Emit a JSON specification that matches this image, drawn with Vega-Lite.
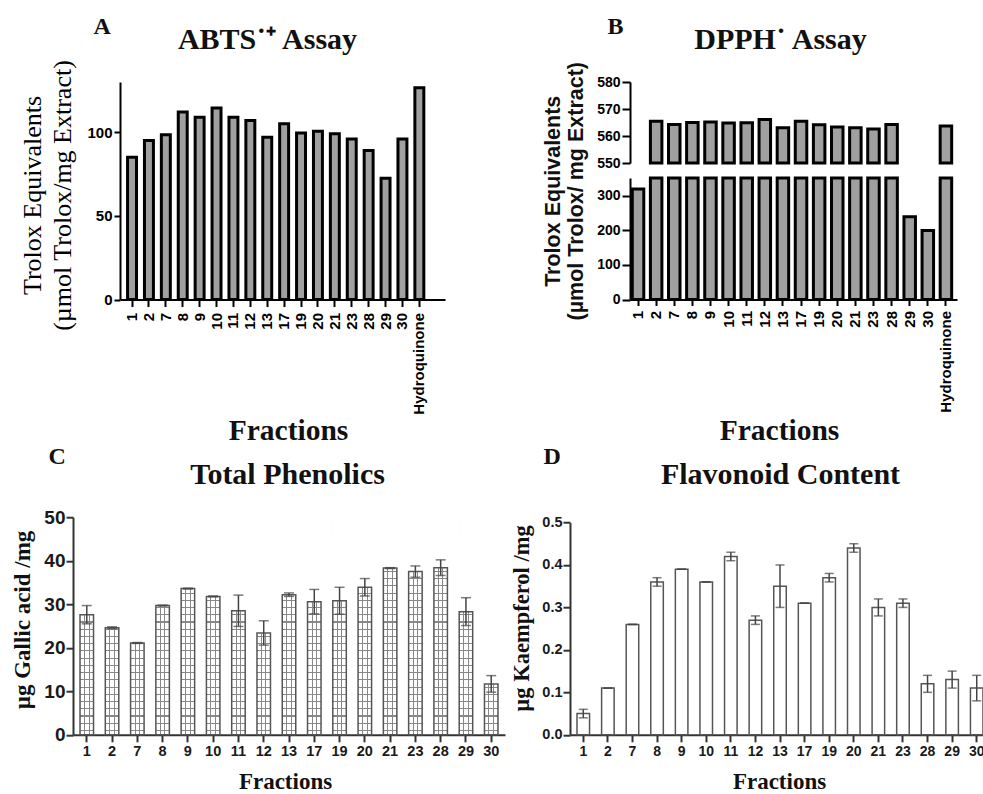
{
  "$schema": "https://vega.github.io/schema/vega-lite/v6.json",
  "autosize": {"type": "none"},
  "padding": {"left": 73, "top": 82, "right": 910, "bottom": 712},
  "background": "white",
  "columns": 2,
  "bounds": "flush",
  "spacing": {"row": 217.2, "column": 65},
  "config": {
    "view": {"stroke": null},
    "font": "Liberation Sans",
    "axis": {
      "grid": false,
      "labelFont": "Liberation Sans", "labelFontWeight": "bold", "labelColor": "#000",
      "tickColor": "#000", "tickWidth": 2, "domainColor": "#000", "domainWidth": 2,
      "titleFont": "Liberation Serif", "titleFontWeight": "bold", "titleColor": "#111",
      "labelOverlap": false
    }
  },
  "datasets": {
    "abts": [
      {"fraction": "1", "value": 85}, {"fraction": "2", "value": 95}, {"fraction": "7", "value": 98.5},
      {"fraction": "8", "value": 112}, {"fraction": "9", "value": 109}, {"fraction": "10", "value": 114.5},
      {"fraction": "11", "value": 109}, {"fraction": "12", "value": 107}, {"fraction": "13", "value": 97},
      {"fraction": "17", "value": 105}, {"fraction": "19", "value": 99.5}, {"fraction": "20", "value": 100.5},
      {"fraction": "21", "value": 99}, {"fraction": "23", "value": 96}, {"fraction": "28", "value": 89},
      {"fraction": "29", "value": 72.5}, {"fraction": "30", "value": 96}, {"fraction": "Hydroquinone", "value": 126.5}
    ],
    "dpph": [
      {"fraction": "1", "value": 320}, {"fraction": "2", "value": 565.5}, {"fraction": "7", "value": 564.3},
      {"fraction": "8", "value": 565}, {"fraction": "9", "value": 565.2}, {"fraction": "10", "value": 564.8},
      {"fraction": "11", "value": 564.9}, {"fraction": "12", "value": 566.1}, {"fraction": "13", "value": 563.1},
      {"fraction": "17", "value": 565.5}, {"fraction": "19", "value": 564.2}, {"fraction": "20", "value": 563.3},
      {"fraction": "21", "value": 563.1}, {"fraction": "23", "value": 562.6}, {"fraction": "28", "value": 564.3},
      {"fraction": "29", "value": 240}, {"fraction": "30", "value": 200}, {"fraction": "Hydroquinone", "value": 563.7}
    ],
    "phen": [
      {"fraction": "1", "value": 27.6, "err": 2.1}, {"fraction": "2", "value": 24.6, "err": 0.2},
      {"fraction": "7", "value": 21.1, "err": 0.1}, {"fraction": "8", "value": 29.7, "err": 0.1},
      {"fraction": "9", "value": 33.6, "err": 0.1}, {"fraction": "10", "value": 31.8, "err": 0.1},
      {"fraction": "11", "value": 28.5, "err": 3.6}, {"fraction": "12", "value": 23.4, "err": 2.8},
      {"fraction": "13", "value": 32.2, "err": 0.4}, {"fraction": "17", "value": 30.6, "err": 2.8},
      {"fraction": "19", "value": 30.8, "err": 3.1}, {"fraction": "20", "value": 33.9, "err": 2.0},
      {"fraction": "21", "value": 38.3, "err": 0.1}, {"fraction": "23", "value": 37.5, "err": 1.3},
      {"fraction": "28", "value": 38.4, "err": 1.8}, {"fraction": "29", "value": 28.3, "err": 3.2},
      {"fraction": "30", "value": 11.7, "err": 1.9}
    ],
    "flav": [
      {"fraction": "1", "value": 0.05, "err": 0.01}, {"fraction": "2", "value": 0.11, "err": 0},
      {"fraction": "7", "value": 0.26, "err": 0}, {"fraction": "8", "value": 0.36, "err": 0.01},
      {"fraction": "9", "value": 0.39, "err": 0}, {"fraction": "10", "value": 0.36, "err": 0},
      {"fraction": "11", "value": 0.42, "err": 0.01}, {"fraction": "12", "value": 0.27, "err": 0.01},
      {"fraction": "13", "value": 0.35, "err": 0.05}, {"fraction": "17", "value": 0.31, "err": 0},
      {"fraction": "19", "value": 0.37, "err": 0.01}, {"fraction": "20", "value": 0.44, "err": 0.01},
      {"fraction": "21", "value": 0.30, "err": 0.02}, {"fraction": "23", "value": 0.31, "err": 0.01},
      {"fraction": "28", "value": 0.12, "err": 0.02}, {"fraction": "29", "value": 0.13, "err": 0.02},
      {"fraction": "30", "value": 0.11, "err": 0.03}
    ]
  },
  "concat": [
    {
      "width": 372, "height": 217.5,
      "data": {"name": "abts"},
      "resolve": {"axis": {"x": "independent"}},
      "layer": [
        {
          "mark": {"type": "bar", "fill": "#a0a0a0", "stroke": "#000", "strokeWidth": 3},
          "encoding": {
            "x": {"field": "fraction", "type": "nominal", "sort": null,
              "scale": {"range": [47, 372], "paddingInner": 0.47, "paddingOuter": 0.85, "align": 0.263},
              "axis": {"orient": "bottom", "labelAngle": -90, "labelFontSize": 15, "labelPadding": 6, "tickSize": 7,
                "title": "Fractions", "titleFontSize": 29.5, "titleX": 215, "titleY": 139.5, "titleAlign": "center", "titleBaseline": "alphabetic", "titleAngle": 0}},
            "y": {"field": "value", "type": "quantitative", "title": ["Trolox Equivalents", "(µmol Trolox/mg Extract)"],
              "scale": {"domain": [0, 130], "nice": false},
              "axis": {"offset": -47, "values": [0, 50, 100], "labelFontSize": 15, "labelPadding": 2, "tickSize": 6,
                "titleFontWeight": "normal", "titleFontSize": 26, "titleColor": "#000",
                "titleLineHeight": 30, "titleX": -80, "titleY": 113, "titleAlign": "center", "titleBaseline": "alphabetic", "titleAngle": 270}}
          }
        },
        {
          "mark": {"type": "bar", "opacity": 0},
          "encoding": {"x": {"field": "fraction", "type": "nominal", "sort": null,
            "axis": {"orient": "top", "labels": false, "ticks": false, "domain": false, "title": "ABTS˙⁺ Assay",
              "titleFontSize": 30, "titleX": 194, "titleY": -34, "titleAlign": "center", "titleBaseline": "alphabetic", "titleAngle": 0}},
            "y": {"field": "value", "type": "quantitative", "title": ["Trolox Equivalents", "(µmol Trolox/mg Extract)"]}}
        },
        {
          "mark": {"type": "bar", "opacity": 0},
          "encoding": {"x": {"field": "fraction", "type": "nominal", "sort": null,
            "axis": {"orient": "top", "labels": false, "ticks": false, "domain": false, "title": "A",
              "titleFontSize": 24, "titleX": 20, "titleY": -49, "titleAlign": "left", "titleBaseline": "alphabetic", "titleAngle": 0}},
            "y": {"field": "value", "type": "quantitative", "title": ["Trolox Equivalents", "(µmol Trolox/mg Extract)"]}}
        }
      ]
    },
    {
      "width": 387, "height": 217.5,
      "data": {"name": "dpph"},
      "resolve": {"scale": {"y": "independent"}, "axis": {"x": "independent", "y": "independent"}},
      "layer": [
        {
          "mark": {"type": "bar", "fill": "#a0a0a0", "stroke": "#000", "strokeWidth": 3},
          "encoding": {
            "x": {"field": "fraction", "type": "nominal", "sort": null,
              "scale": {"domain": ["1","2","7","8","9","10","11","12","13","17","19","20","21","23","28","29","30","Hydroquinone"],
                "range": [60, 387], "paddingInner": 0.365, "paddingOuter": 0.21, "align": 0.3},
              "axis": {"orient": "bottom", "labelAngle": -90, "labelFontSize": 15, "labelPadding": 5, "tickSize": 6,
                "title": "Fractions", "titleFontSize": 29.5, "titleX": 209, "titleY": 139.5, "titleAlign": "center", "titleBaseline": "alphabetic", "titleAngle": 0}},
            "y": {"field": "value", "type": "quantitative",
              "scale": {"domain": [0, 352], "range": [217.5, 96], "clamp": true, "nice": false},
              "axis": {"orient": "left", "offset": -60, "values": [0, 100, 200, 300], "labelFontSize": 14, "labelPadding": 2, "tickSize": 8,
                "title": ["Trolox Equivalents", "(µmol Trolox/ mg Extract)"], "titleFont": "Liberation Sans", "titleFontSize": 21.5, "titleColor": "#111",
                "titleLineHeight": 23.5, "titleX": -71, "titleY": 108.75, "titleAlign": "center", "titleBaseline": "alphabetic", "titleAngle": 270}}
          }
        },
        {
          "transform": [{"filter": "datum.value >= 550"}],
          "mark": {"type": "bar", "fill": "#a0a0a0", "stroke": "#000", "strokeWidth": 3},
          "encoding": {
            "x": {"field": "fraction", "type": "nominal", "sort": null, "axis": null},
            "y": {"field": "value", "type": "quantitative",
              "scale": {"domain": [550, 580], "range": [81, 0], "clamp": true, "nice": false, "zero": false},
              "axis": {"orient": "left", "offset": -60, "values": [550, 560, 570, 580], "labelFontSize": 14, "labelPadding": 2, "tickSize": 8, "title": null}},
            "y2": {"datum": 550}
          }
        },
        {
          "mark": {"type": "bar", "opacity": 0},
          "encoding": {"x": {"field": "fraction", "type": "nominal", "sort": null,
            "axis": {"orient": "top", "labels": false, "ticks": false, "domain": false, "title": "DPPH˙ Assay",
              "titleFontSize": 30, "titleX": 210, "titleY": -34, "titleAlign": "center", "titleBaseline": "alphabetic", "titleAngle": 0}},
            "y": {"field": "value", "type": "quantitative", "axis": null}}
        },
        {
          "mark": {"type": "bar", "opacity": 0},
          "encoding": {"x": {"field": "fraction", "type": "nominal", "sort": null,
            "axis": {"orient": "top", "labels": false, "ticks": false, "domain": false, "title": "B",
              "titleFontSize": 24, "titleX": 37, "titleY": -49, "titleAlign": "left", "titleBaseline": "alphabetic", "titleAngle": 0}},
            "y": {"field": "value", "type": "quantitative", "axis": null}}
        }
      ]
    },
    {
      "width": 432, "height": 217.6,
      "data": {"name": "phen"},
      "resolve": {"axis": {"x": "independent"}},
      "layer": [
        {
          "mark": {"type": "bar", "fill": {"gradient": "linear", "x1": 0, "y1": 0, "x2": 0, "y2": 1, "stops": [
            {"offset": 0, "color": "#fff"},
            {"offset": 0.0138, "color": "#fff"}, {"offset": 0.0138, "color": "#888"}, {"offset": 0.0188, "color": "#888"}, {"offset": 0.0188, "color": "#fff"},
            {"offset": 0.0471, "color": "#fff"}, {"offset": 0.0471, "color": "#888"}, {"offset": 0.0521, "color": "#888"}, {"offset": 0.0521, "color": "#fff"},
            {"offset": 0.0803, "color": "#fff"}, {"offset": 0.0803, "color": "#888"}, {"offset": 0.0853, "color": "#888"}, {"offset": 0.0853, "color": "#fff"},
            {"offset": 0.1135, "color": "#fff"}, {"offset": 0.1135, "color": "#888"}, {"offset": 0.1185, "color": "#888"}, {"offset": 0.1185, "color": "#fff"},
            {"offset": 0.1468, "color": "#fff"}, {"offset": 0.1468, "color": "#888"}, {"offset": 0.1518, "color": "#888"}, {"offset": 0.1518, "color": "#fff"},
            {"offset": 0.1800, "color": "#fff"}, {"offset": 0.1800, "color": "#888"}, {"offset": 0.1850, "color": "#888"}, {"offset": 0.1850, "color": "#fff"},
            {"offset": 0.2132, "color": "#fff"}, {"offset": 0.2132, "color": "#888"}, {"offset": 0.2182, "color": "#888"}, {"offset": 0.2182, "color": "#fff"},
            {"offset": 0.2464, "color": "#fff"}, {"offset": 0.2464, "color": "#888"}, {"offset": 0.2514, "color": "#888"}, {"offset": 0.2514, "color": "#fff"},
            {"offset": 0.2797, "color": "#fff"}, {"offset": 0.2797, "color": "#888"}, {"offset": 0.2847, "color": "#888"}, {"offset": 0.2847, "color": "#fff"},
            {"offset": 0.3129, "color": "#fff"}, {"offset": 0.3129, "color": "#888"}, {"offset": 0.3179, "color": "#888"}, {"offset": 0.3179, "color": "#fff"},
            {"offset": 0.3461, "color": "#fff"}, {"offset": 0.3461, "color": "#888"}, {"offset": 0.3511, "color": "#888"}, {"offset": 0.3511, "color": "#fff"},
            {"offset": 0.3794, "color": "#fff"}, {"offset": 0.3794, "color": "#888"}, {"offset": 0.3844, "color": "#888"}, {"offset": 0.3844, "color": "#fff"},
            {"offset": 0.4126, "color": "#fff"}, {"offset": 0.4126, "color": "#888"}, {"offset": 0.4176, "color": "#888"}, {"offset": 0.4176, "color": "#fff"},
            {"offset": 0.4458, "color": "#fff"}, {"offset": 0.4458, "color": "#888"}, {"offset": 0.4508, "color": "#888"}, {"offset": 0.4508, "color": "#fff"},
            {"offset": 0.4791, "color": "#fff"}, {"offset": 0.4791, "color": "#888"}, {"offset": 0.4841, "color": "#888"}, {"offset": 0.4841, "color": "#fff"},
            {"offset": 0.5123, "color": "#fff"}, {"offset": 0.5123, "color": "#888"}, {"offset": 0.5173, "color": "#888"}, {"offset": 0.5173, "color": "#fff"},
            {"offset": 0.5455, "color": "#fff"}, {"offset": 0.5455, "color": "#888"}, {"offset": 0.5505, "color": "#888"}, {"offset": 0.5505, "color": "#fff"},
            {"offset": 0.5787, "color": "#fff"}, {"offset": 0.5787, "color": "#888"}, {"offset": 0.5837, "color": "#888"}, {"offset": 0.5837, "color": "#fff"},
            {"offset": 0.6120, "color": "#fff"}, {"offset": 0.6120, "color": "#888"}, {"offset": 0.6170, "color": "#888"}, {"offset": 0.6170, "color": "#fff"},
            {"offset": 0.6452, "color": "#fff"}, {"offset": 0.6452, "color": "#888"}, {"offset": 0.6502, "color": "#888"}, {"offset": 0.6502, "color": "#fff"},
            {"offset": 0.6784, "color": "#fff"}, {"offset": 0.6784, "color": "#888"}, {"offset": 0.6834, "color": "#888"}, {"offset": 0.6834, "color": "#fff"},
            {"offset": 0.7117, "color": "#fff"}, {"offset": 0.7117, "color": "#888"}, {"offset": 0.7167, "color": "#888"}, {"offset": 0.7167, "color": "#fff"},
            {"offset": 0.7449, "color": "#fff"}, {"offset": 0.7449, "color": "#888"}, {"offset": 0.7499, "color": "#888"}, {"offset": 0.7499, "color": "#fff"},
            {"offset": 0.7781, "color": "#fff"}, {"offset": 0.7781, "color": "#888"}, {"offset": 0.7831, "color": "#888"}, {"offset": 0.7831, "color": "#fff"},
            {"offset": 0.8114, "color": "#fff"}, {"offset": 0.8114, "color": "#888"}, {"offset": 0.8164, "color": "#888"}, {"offset": 0.8164, "color": "#fff"},
            {"offset": 0.8446, "color": "#fff"}, {"offset": 0.8446, "color": "#888"}, {"offset": 0.8496, "color": "#888"}, {"offset": 0.8496, "color": "#fff"},
            {"offset": 0.8778, "color": "#fff"}, {"offset": 0.8778, "color": "#888"}, {"offset": 0.8828, "color": "#888"}, {"offset": 0.8828, "color": "#fff"},
            {"offset": 0.9110, "color": "#fff"}, {"offset": 0.9110, "color": "#888"}, {"offset": 0.9160, "color": "#888"}, {"offset": 0.9160, "color": "#fff"},
            {"offset": 0.9443, "color": "#fff"}, {"offset": 0.9443, "color": "#888"}, {"offset": 0.9493, "color": "#888"}, {"offset": 0.9493, "color": "#fff"},
            {"offset": 0.9775, "color": "#fff"}, {"offset": 0.9775, "color": "#888"}, {"offset": 0.9825, "color": "#888"}, {"offset": 0.9825, "color": "#fff"},
            {"offset": 1, "color": "#fff"}
          ]}},
          "encoding": {
            "x": {"field": "fraction", "type": "nominal", "sort": null,
              "scale": {"paddingInner": 0.466, "paddingOuter": 0.278, "align": 0.5},
              "axis": {"orient": "bottom", "labelAngle": 0, "labelFontSize": 14.5, "labelPadding": 3, "labelColor": "#1a1a1a", "tickSize": 7,
                "tickColor": "#333", "domainColor": "#333",
                "title": "Fractions", "titleFontSize": 23, "titleX": 212, "titleY": 54, "titleAlign": "center", "titleBaseline": "alphabetic", "titleAngle": 0}},
            "y": {"datum": 50, "type": "quantitative", "title": "µg Gallic acid /mg",
              "scale": {"domain": [0, 50], "nice": false},
              "axis": {"values": [0, 10, 20, 30, 40, 50], "labelFontSize": 19, "labelPadding": 1, "labelColor": "#1a1a1a", "tickSize": 7,
                "tickColor": "#333", "domainColor": "#333",
                "titleFontSize": 23, "titleX": -44, "titleY": 102.3, "titleAlign": "center", "titleBaseline": "alphabetic", "titleAngle": 270}},
            "y2": {"datum": 0}
          }
        },
        {
          "mark": {"type": "bar", "fill": {"gradient": "linear", "x1": 0, "y1": 0, "x2": 1, "y2": 0, "stops": [
            {"offset": 0, "color": "rgba(255,255,255,0)"},
            {"offset": 0.296, "color": "rgba(255,255,255,0)"}, {"offset": 0.296, "color": "#888"}, {"offset": 0.37, "color": "#888"}, {"offset": 0.37, "color": "rgba(255,255,255,0)"},
            {"offset": 0.63, "color": "rgba(255,255,255,0)"}, {"offset": 0.63, "color": "#888"}, {"offset": 0.704, "color": "#888"}, {"offset": 0.704, "color": "rgba(255,255,255,0)"},
            {"offset": 1, "color": "rgba(255,255,255,0)"}
          ]}},
          "encoding": {
            "x": {"field": "fraction", "type": "nominal", "sort": null, "axis": null},
            "y": {"datum": 50, "type": "quantitative", "title": "µg Gallic acid /mg"},
            "y2": {"datum": 0}
          }
        },
        {
          "mark": {"type": "bar", "fill": "#fff", "stroke": "#fff", "strokeWidth": 1},
          "encoding": {
            "x": {"field": "fraction", "type": "nominal", "sort": null, "axis": null},
            "y": {"field": "value", "type": "quantitative", "title": "µg Gallic acid /mg"},
            "y2": {"datum": 50}
          }
        },
        {
          "mark": {"type": "bar", "fillOpacity": 0, "stroke": "#555", "strokeWidth": 1.5},
          "encoding": {
            "x": {"field": "fraction", "type": "nominal", "sort": null, "axis": null},
            "y": {"field": "value", "type": "quantitative", "title": "µg Gallic acid /mg"}
          }
        },
        {
          "mark": {"type": "errorbar", "color": "#444", "thickness": 1.5, "ticks": {"size": 10, "color": "#444", "thickness": 1.5}},
          "encoding": {
            "x": {"field": "fraction", "type": "nominal", "sort": null, "axis": null},
            "y": {"field": "value", "type": "quantitative", "title": "µg Gallic acid /mg"},
            "yError": {"field": "err"}
          }
        },
        {
          "mark": {"type": "bar", "opacity": 0},
          "encoding": {"x": {"field": "fraction", "type": "nominal", "sort": null,
            "axis": {"orient": "top", "labels": false, "ticks": false, "domain": false, "title": "Total Phenolics",
              "titleFontSize": 30, "titleX": 214, "titleY": -33.7, "titleAlign": "center", "titleBaseline": "alphabetic", "titleAngle": 0}},
            "y": {"field": "value", "type": "quantitative", "title": "µg Gallic acid /mg"}}
        },
        {
          "mark": {"type": "bar", "opacity": 0},
          "encoding": {"x": {"field": "fraction", "type": "nominal", "sort": null,
            "axis": {"orient": "top", "labels": false, "ticks": false, "domain": false, "title": "C",
              "titleFontSize": 24, "titleX": -25, "titleY": -53.7, "titleAlign": "left", "titleBaseline": "alphabetic", "titleAngle": 0}},
            "y": {"field": "value", "type": "quantitative", "title": "µg Gallic acid /mg"}}
        }
      ]
    },
    {
      "width": 420, "height": 217.6,
      "data": {"name": "flav"},
      "resolve": {"axis": {"x": "independent"}},
      "layer": [
        {
          "mark": {"type": "bar", "fill": "#fff", "stroke": "#555", "strokeWidth": 1.5},
          "encoding": {
            "x": {"field": "fraction", "type": "nominal", "sort": null,
              "scale": {"paddingInner": 0.49, "paddingOuter": 0.285, "align": 0.5},
              "axis": {"orient": "bottom", "labelAngle": 0, "labelFontSize": 14, "labelPadding": 3, "labelColor": "#1a1a1a", "tickSize": 7,
                "tickColor": "#333", "domainColor": "#333",
                "title": "Fractions", "titleFontSize": 23, "titleX": 209, "titleY": 54, "titleAlign": "center", "titleBaseline": "alphabetic", "titleAngle": 0}},
            "y": {"field": "value", "type": "quantitative", "title": "µg Kaempferol /mg",
              "scale": {"domain": [0, 0.5], "range": [217.6, 5.3], "nice": false},
              "axis": {"values": [0, 0.1, 0.2, 0.3, 0.4, 0.5], "format": ".1f", "labelFontSize": 14.5, "labelPadding": 1, "labelColor": "#1a1a1a", "tickSize": 7,
                "tickColor": "#333", "domainColor": "#333",
                "titleFontSize": 22.5, "titleX": -41.5, "titleY": 100.8, "titleAlign": "center", "titleBaseline": "alphabetic", "titleAngle": 270}}
          }
        },
        {
          "mark": {"type": "errorbar", "color": "#444", "thickness": 1.5, "ticks": {"size": 9, "color": "#444", "thickness": 1.5}},
          "encoding": {
            "x": {"field": "fraction", "type": "nominal", "sort": null, "axis": null},
            "y": {"field": "value", "type": "quantitative", "title": "µg Kaempferol /mg"},
            "yError": {"field": "err"}
          }
        },
        {
          "mark": {"type": "bar", "opacity": 0},
          "encoding": {"x": {"field": "fraction", "type": "nominal", "sort": null,
            "axis": {"orient": "top", "labels": false, "ticks": false, "domain": false, "title": "Flavonoid Content",
              "titleFontSize": 30, "titleX": 210, "titleY": -33.7, "titleAlign": "center", "titleBaseline": "alphabetic", "titleAngle": 0}},
            "y": {"field": "value", "type": "quantitative", "title": "µg Kaempferol /mg"}}
        },
        {
          "mark": {"type": "bar", "opacity": 0},
          "encoding": {"x": {"field": "fraction", "type": "nominal", "sort": null,
            "axis": {"orient": "top", "labels": false, "ticks": false, "domain": false, "title": "D",
              "titleFontSize": 24, "titleX": -27, "titleY": -53.7, "titleAlign": "left", "titleBaseline": "alphabetic", "titleAngle": 0}},
            "y": {"field": "value", "type": "quantitative", "title": "µg Kaempferol /mg"}}
        }
      ]
    }
  ]
}
